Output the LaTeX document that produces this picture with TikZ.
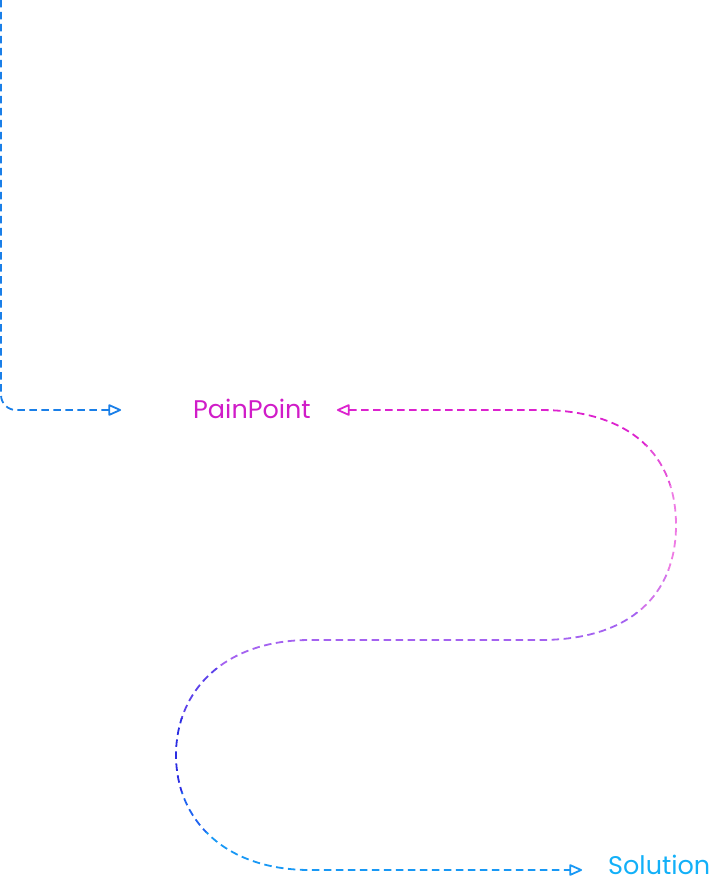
\documentclass[tikz,border=0pt]{standalone}
\usepackage{fontspec}
\setmainfont{Poppins}
\usepackage{xcolor}
\usetikzlibrary{arrows.meta,positioning,calc}
\definecolor{entryblue}{HTML}{1A7FE8}
\definecolor{painmag}{HTML}{D01CC8}
\definecolor{solblue}{HTML}{12B0F8}
\definecolor{bandA}{HTML}{DC22CE}
\definecolor{bandB}{HTML}{E450D8}
\definecolor{bandC}{HTML}{EE7CE4}
\definecolor{bandD}{HTML}{D274EA}
\definecolor{bandE}{HTML}{A462F0}
\definecolor{bandF}{HTML}{5C42EA}
\definecolor{bandG}{HTML}{2C2EE2}
\definecolor{bandH}{HTML}{2064F0}
\definecolor{bandI}{HTML}{1898F5}
\tikzset{
	label/.style={inner sep=0pt, font=\fontsize{25.5}{29}\selectfont},
	flow/.style={dashed, dash pattern=on 7.5pt off 4.5pt, line width=1.8pt},
}

\begin{document}
\begin{tikzpicture}[x=1pt, y=-1pt]
	\useasboundingbox (0,0) rectangle (715,877);
	
	%% -- labels
	\node[label, text=painmag] (pp) at (252,409) {PainPoint};
	\node[label, text=solblue, anchor=west] (sol) at (608,865) {Solution};
	
	%% -- turning points of the S
	\coordinate (rturn) at (676,525);
	\coordinate (lturn) at (176,755);
	\coordinate (entry) at (1,0);
	
	%% -- incoming line from the top
	\draw[flow, entryblue, rounded corners=15pt, -{Triangle[open, length=14pt, width=12pt, round]}]
	(entry) |- ([xshift=-72pt, yshift=-1pt]pp.west);
	
	%% -- S-shaped path, coloured band by band
	\foreach \ya/\yb/\col in {395/445/bandA, 445/485/bandB, 485/570/bandC,
		570/612/bandD, 612/668/bandE, 668/718/bandF, 718/792/bandG,
		792/832/bandH, 832/885/bandI}
	{
		\begin{scope}
			\clip (0,\ya) rectangle (715,\yb);
			\draw[flow, \col, {Triangle[open, length=14pt, width=12pt, round]}-{Triangle[open, length=14pt, width=12pt, round]}]
			([xshift=26pt, yshift=-1pt]pp.east) -- (540,410)
			.. controls (630,410) and (676,455) .. (rturn)
			.. controls (676,595) and (630,640) .. (540,640)
			-- (310,640)
			.. controls (225,640) and (176,690) .. (lturn)
			.. controls (176,820) and (225,870) .. (310,870)
			-- ([xshift=-26pt, yshift=-5pt]sol.west);
		\end{scope}
	}
	
\end{tikzpicture}
\end{document}
